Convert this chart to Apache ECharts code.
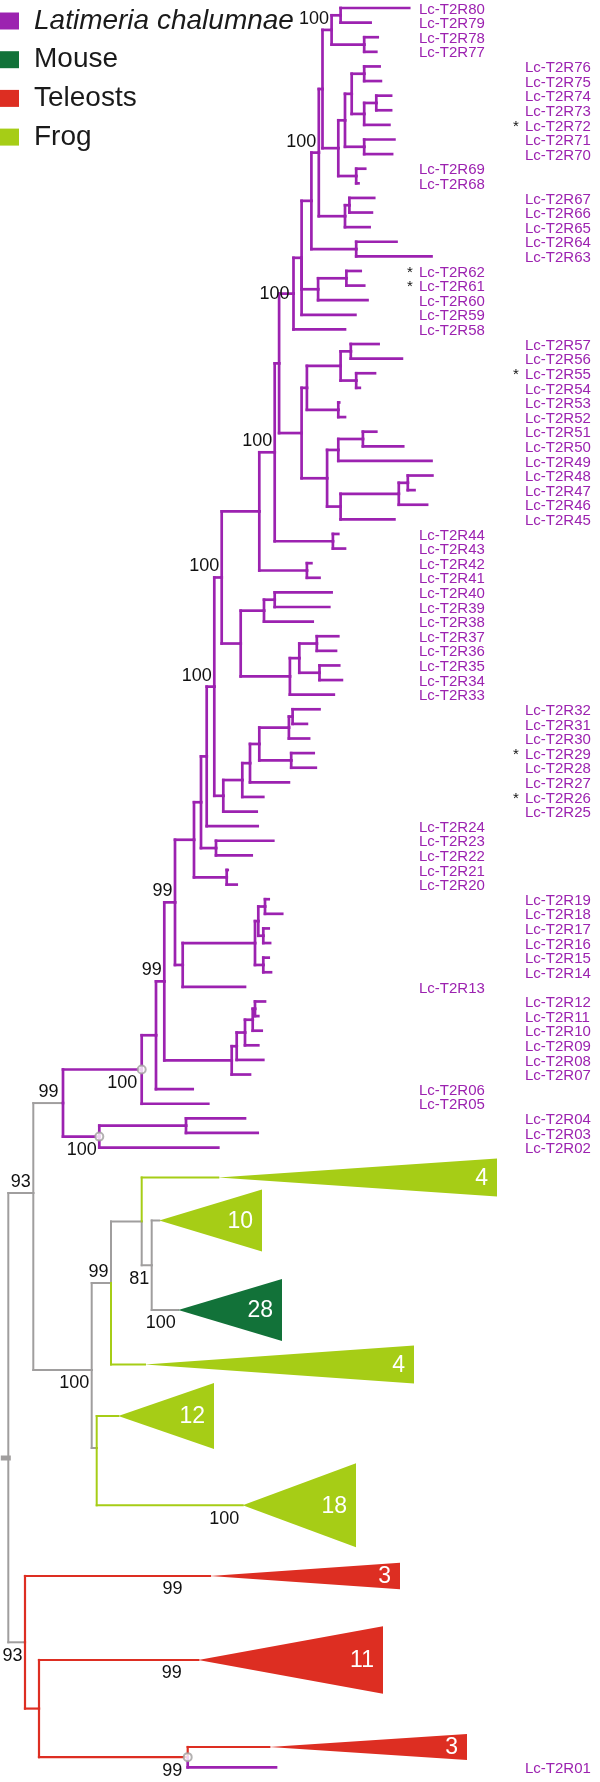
<!DOCTYPE html>
<html>
<head>
<meta charset="utf-8">
<script src="https://cdn.jsdelivr.net/npm/echarts@6.0.0/dist/echarts.min.js"></script>
<style>
html,body{margin:0;padding:0;background:#ffffff;}
#chart{width:600px;height:1782px;}
</style>
</head>
<body>
<div id="chart"></div>
<script>
// ================= DATA =================
// Tree topology in Newick form: "name:x" where x is the node position on the distance axis.
// Leaves appear top-to-bottom in drawing order.
const cladeR80_R68 = "(((R80:409.2,R79:370.6)n1:340.6,(R78:377.7,R77:376.3)n2:364.2)n3:331.6,((((R76:379.6,R75:380.9)n4:364.2,((R74:391.1,R73:391.1)n5:376.3,R72:389.4)n6:364.2)n7:351.7,(R71:394.4,R70:392.1)n8:364.2)n9:345,(R69:365.2,R68:358.5)n10:356.2)nZ:338.3)n13:322.5";
const cladeR67_R65 = "((R67:374.2,R66:371.9)n67:349.4,R65:369.6)n65:345";
const cladeR64_R63 = "(R64:396.5,R63:431.5)n64:356.2";
const cladeR62_R60 = "((R62:360.7,R61:364.2)n62:346.4,R60:367.5)n60:318.1";
const cladeR57_R45 = "((((R57:378.6,R56:401.9)m1:350.8,(R55:375,R54:359.8)m2:356.2)m3:340.6,(R53:339.2,R52:345)m4:338.3)m5:306.9,(((R51:376.3,R50:403.2)m6:362.9,R49:431.5)m7:338.3,(((R48:432.4,R47:414.5)m8:407.8,R46:427.1)m9:398.8,R45:394.4)m10:340.6)m11:327.1)m12:301.6";
const cladeR44_R43 = "(R44:338.3,R43:345)m13:332.9";
const cladeR42_R41 = "(R42:311.4,R41:319.5)m14:306.9";
const cladeR40_R33 = "(((R40:331.6,R39:329.3)k1:274.7,R38:312.7)k2:264,(((R37:338.3,R36:336)k3:316.8,(R35:339.2,R34:341.9)k4:319.5)k5:299.3,R33:333.8)k6:289.9)k7:240.7";
const cladeR32_R25 = "((((((R32:319.5,R31:306.9)j1:292.6,R30:309.1)j2:288.9,(R29:313.7,R28:315.8)j3:291.2)j4:259.3,R27:288.9)j5:250,R26:263.3)j6:242.3,R25:256.7)j7:223.3";
const cladeR23_R22 = "(R23:273.3,R22:251.7)i1:216";
const cladeR21_R20 = "(R21:227.7,R20:236.7)i2:226.7";
const cladeR19_R13 = "((((R19:268.7,R18:282.2)h1:265,(R17:268.7,R16:270.1)h2:263.3)h3:258.3,(R15:268.7,R14:271)h4:263.3)h5:255,R13:245)nC1:182.7";
const cladeR12_R07 = "(((((R12:265,R11:258.3)g1:255,R10:261.7)g2:252.7,R09:258.3)g3:245,R08:263.3)g4:236.7,R07:250)g5:231.7";
const cladeR04_R02 = "((R04:245,R03:257.7)g6:186,R02:218.3)nD4:99.3";
const cladeFrogMouse = "(((F4a:218.3,(F10:159.3,M28:178.3)nG1:151.7)nG2:141.7,F4b:145)nG3:111,(F12:118.3,F18:242.7)nF2:96.7)nF1:91.7";
const cladeTeleost = "(Tel3a:210,(Tel11:198.3,(Tel3b:269.3,R01:276)nT3:187.7)nT2:39)nT1:25";

// Collapsed clades (triangles)
const cladeIds    = ['F4a','F10','M28','F4b','F12','F18','Tel3a','Tel11','Tel3b'];
const cladeCounts = [4, 10, 28, 4, 12, 18, 3, 11, 3];
const cladeY      = [1177.5, 1220.5, 1310, 1364.5, 1416, 1505.3, 1576, 1660, 1747];
const cladeBaseX  = [497, 262, 282, 414, 214, 356, 400, 383, 467];
const cladeHalf   = [19, 31, 31, 19, 33, 42, 13.3, 33.7, 13];
const cladeGroup  = ['frog','frog','mouse','frog','frog','frog','tel','tel','tel'];

// Node vertical positions that are not the midpoint of their children
const yOverrideIds = ['nG3','nF2','nF1','nE1','root','R01'];
const yOverrideVal = [1283, 1448, 1370, 1193, 1458, 1767.3];

// Branch colour groups (all others are Latimeria)
const greyBranches = ['nD5','nE1','nF1','nF2','nG1','nG2','nG3','F10','M28','nT1','root'];
const frogBranches = ['F4a','F4b','F12','F18'];
const teleBranches = ['Tel3a','Tel11','Tel3b','nT2','nT3'];

// Bootstrap support values: node, value, placement
const bootNodes  = ['n3','nP','nU','nA2','nA5','nA6','nB4','nD1','nD3','nD5','nD4','nE1','nG3','nG1','M28','nF1','F18','Tel3a','Tel11','nT3','nT1'];
const bootValues = [100,100,100,100,100,100,99,99,100,99,100,93,99,81,100,100,100,99,99,99,93];
const bootPlace  = ['tl','tl','l','tl','tl','tl','tl','tl','bl','tl','bl','tl','tl','bl','bl','bl','bl','bl','bl','bl','bl'];
const bootNudgeX = [0,0,0,0,0,0,0,0,-2,-2,0,0,0,0,0,0,-1,-25,-14,-3,0];

// Circle-marked nodes
const markedNodes = ['nD3','nD4','nT3'];

// Leaf label columns and asterisks
const rightColumnRanges = ['R76-R70','R67-R63','R57-R45','R32-R25','R19-R14','R12-R07','R04-R01'];
const starred = ['R72','R62','R61','R55','R29','R26'];

// Legend
const legendNames  = ['Latimeria chalumnae','Mouse','Teleosts','Frog'];

// ================= STYLE =================
const COLORS = {lat:'#9c22b0', mouse:'#127239', tel:'#dd2e22', frog:'#a6cd16', grey:'#a09e9e'};
const FONT = 'Liberation Sans';
const ROW_TOP = 8, ROW_STEP = 14.61;
const COL_X = [419, 525], STAR_X = [410, 516];

// ================= BUILD TREE =================
const treeStr =
  `((((((((((((((((((((${cladeR80_R68},${cladeR67_R65})nP:318.8,${cladeR64_R63})nQ:311.4,${cladeR62_R60},R59:355.4)nS:301.6,R58:345)nU:293.5,${cladeR57_R45})nA1:279.1,${cladeR44_R43})nA2:274.7,${cladeR42_R41})nA3:259.3,${cladeR40_R33})nA5:221.7,${cladeR32_R25})nA6:214.3,R24:257.7)nB1:206.7,${cladeR23_R22})nB2:201,${cladeR21_R20})nB3:194,${cladeR19_R13})nB4:175,${cladeR12_R07})nD1:164.3,R06:192.7)nD2:156,R05:208.3)nD3:141.7,${cladeR04_R02})nD5:63,${cladeFrogMouse})nE1:33.3,${cladeTeleost})root:8.3)stub:3.3`;

function parseNewick(s){
  let i = 0;
  function node(){
    const n = {children:[]};
    if (s[i] === '('){
      i++; n.children.push(node());
      while (s[i] === ','){ i++; n.children.push(node()); }
      i++;
    }
    let name = '';
    while (i < s.length && !':,()'.includes(s[i])) name += s[i++];
    n.name = name;
    if (s[i] === ':'){
      i++; let num = '';
      while (i < s.length && !',()'.includes(s[i])) num += s[i++];
      n.x = parseFloat(num);
    }
    return n;
  }
  return node();
}
const tree = parseNewick(treeStr);
const nodes = {};
let row = 0;
function layout(n){
  nodes[n.name] = n;
  const ov = yOverrideIds.indexOf(n.name);
  if (!n.children.length){
    const ci = cladeIds.indexOf(n.name);
    if (ov >= 0) n.y = yOverrideVal[ov];
    else if (ci >= 0) n.y = cladeY[ci];
    else { n.y = ROW_TOP + row * ROW_STEP; row++; }
  } else {
    n.children.forEach(layout);
    n.y = ov >= 0 ? yOverrideVal[ov] : (n.children[0].y + n.children[n.children.length-1].y) / 2;
  }
}
layout(tree);

function groupOf(name){
  if (greyBranches.includes(name)) return 'grey';
  if (frogBranches.includes(name)) return 'frog';
  if (teleBranches.includes(name)) return 'tel';
  return 'lat';
}
const segs = {lat:[], frog:[], tel:[], grey:[], stub:[]};
function buildSegs(n){
  n.children.forEach(c => {
    const g = c.name === 'root' ? 'stub' : groupOf(c.name);
    if (c.y !== n.y) segs[g].push([n.x, n.y, n.x, c.y]);
    segs[g].push([n.x, c.y, c.x, c.y]);
    buildSegs(c);
  });
}
buildSegs(tree);

// leaf labels
function inRanges(id){
  const k = +id.slice(1);
  return rightColumnRanges.some(r => { const [a,b] = r.split('-').map(t => +t.slice(1)); return k <= a && k >= b; });
}
const leafLabels = [];
Object.values(nodes).forEach(n => {
  if (!n.children.length && /^R\d\d$/.test(n.name)){
    const col = inRanges(n.name) ? 1 : 0;
    leafLabels.push({x: COL_X[col], y: n.y, text: 'Lc-T2' + n.name, star: starred.includes(n.name), starX: STAR_X[col]});
  }
});

// bootstrap labels
const bootLabels = bootNodes.map((id, i) => {
  const n = nodes[id];
  const p = bootPlace[i];
  const dy = p === 'tl' ? -11 : (p === 'bl' ? 13.5 : 0);
  const dx = (p === 'l' ? -4 : -2.5) + bootNudgeX[i];
  return {x: n.x, y: n.y, dx, dy, text: String(bootValues[i])};
});

// ================= CHART =================
const chart = echarts.init(document.getElementById('chart'), null, {renderer:'canvas'});

function segSeries(name, key, color, width){
  return {
    type:'custom', name, coordinateSystem:'cartesian2d', silent:true, clip:false, animation:false,
    encode:{x:[0,2], y:[1,3]},
    data: segs[key],
    renderItem(params, api){
      const p1 = api.coord([api.value(0), api.value(1)]);
      const p2 = api.coord([api.value(2), api.value(3)]);
      return {type:'line', shape:{x1:p1[0], y1:p1[1], x2:p2[0], y2:p2[1]},
        style:{stroke:color, lineWidth:width, lineCap:'square'}};
    }
  };
}
function triSeries(name, group){
  const idx = cladeIds.map((c,i)=>i).filter(i => cladeGroup[i] === group);
  return {
    type:'custom', name, coordinateSystem:'cartesian2d', silent:true, clip:false, animation:false,
    encode:{x:[0,2], y:1},
    data: idx.map(i => [nodes[cladeIds[i]].x, cladeY[i], cladeBaseX[i], cladeHalf[i], cladeCounts[i]]),
    renderItem(params, api){
      const ax = api.value(0), y = api.value(1), bx = api.value(2), h = api.value(3);
      const a = api.coord([ax, y]), b1 = api.coord([bx, y - h]), b2 = api.coord([bx, y + h]);
      return {type:'group', children:[
        {type:'polygon', shape:{points:[a, b1, b2]}, style:{fill:COLORS[group]}},
        {type:'text', x:b1[0] - 9, y:a[1] + 1, style:{text:String(api.value(4)), fill:'#ffffff', fontSize:23, fontFamily:FONT, align:'right', verticalAlign:'middle'}}
      ]};
    }
  };
}

const option = {
  animation:false,
  backgroundColor:'#ffffff',
  grid:{left:0, right:0, top:0, bottom:0},
  xAxis:{type:'value', min:0, max:600, show:false},
  yAxis:{type:'value', min:0, max:1782, inverse:true, show:false},
  legend:{
    orient:'vertical', left:0, top:7, padding:0, itemWidth:19, itemHeight:17, itemGap:10.7, selectedMode:false,
    data: legendNames.map((n,i) => ({name:n, icon:'rect', itemStyle:{color:[COLORS.lat, COLORS.mouse, COLORS.tel, COLORS.frog][i]}})),
    formatter: n => n === 'Latimeria chalumnae' ? '{it|' + n + '}' : '{rg|' + n + '}',
    textStyle:{color:'#1a1a1a', fontSize:28, fontFamily:FONT, lineHeight:28, padding:[0,0,0,10],
      rich:{it:{fontStyle:'italic', fontSize:28, fontFamily:FONT, lineHeight:28, color:'#1a1a1a'},
            rg:{fontSize:28, fontFamily:FONT, lineHeight:28, color:'#1a1a1a'}}}
  },
  series:[
    segSeries('_grey', 'grey', COLORS.grey, 2),
    segSeries('_stub', 'stub', COLORS.grey, 5),
    segSeries('Frog', 'frog', COLORS.frog, 2),
    segSeries('Teleosts', 'tel', COLORS.tel, 2.2),
    segSeries('Latimeria chalumnae', 'lat', COLORS.lat, 2.7),
    triSeries('Frog', 'frog'),
    triSeries('Mouse', 'mouse'),
    triSeries('Teleosts', 'tel'),
    {
      type:'scatter', name:'_marks', silent:true, animation:false, symbol:'circle', symbolSize:8, z:5,
      itemStyle:{color:'#ffffff', borderColor:COLORS.grey, borderWidth:2},
      data: markedNodes.map(id => [nodes[id].x, nodes[id].y])
    },
    {
      type:'custom', name:'_leafLabels', coordinateSystem:'cartesian2d', silent:true, clip:false, animation:false,
      encode:{x:0, y:1},
      data: leafLabels.map(l => [l.x, l.y]),
      renderItem(params, api){
        const l = leafLabels[params.dataIndex];
        const p = api.coord([l.x, l.y]);
        const ch = [{type:'text', x:p[0], y:p[1] + 1.5, style:{text:l.text, fill:COLORS.lat, fontSize:15, fontFamily:FONT, align:'left', verticalAlign:'middle'}}];
        if (l.star){
          const ps = api.coord([l.starX, l.y]);
          ch.push({type:'text', x:ps[0], y:ps[1] + 1.5, style:{text:'*', fill:'#111111', fontSize:15, fontFamily:FONT, align:'center', verticalAlign:'middle'}});
        }
        return {type:'group', children:ch};
      }
    },
    {
      type:'custom', name:'_boot', coordinateSystem:'cartesian2d', silent:true, clip:false, animation:false,
      encode:{x:0, y:1},
      data: bootLabels.map(b => [b.x, b.y]),
      renderItem(params, api){
        const b = bootLabels[params.dataIndex];
        const p = api.coord([b.x, b.y]);
        return {type:'text', x:p[0] + b.dx, y:p[1] + b.dy, style:{text:b.text, fill:'#111111', fontSize:18, fontFamily:FONT, align:'right', verticalAlign:'middle'}};
      }
    }
  ]
};
chart.setOption(option);
</script>
</body>
</html>
